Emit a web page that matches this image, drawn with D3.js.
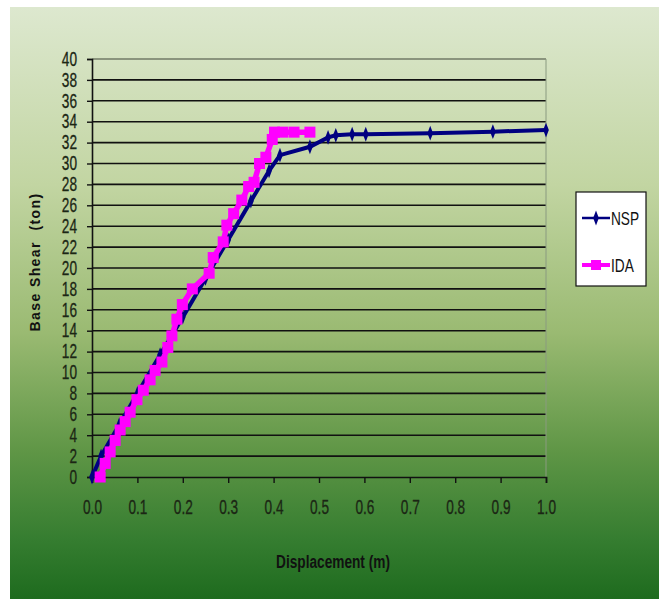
<!DOCTYPE html>
<html>
<head>
<meta charset="utf-8">
<script src="https://cdn.jsdelivr.net/npm/d3@7"></script>
<style>
  body { margin: 0; background: #fff; }
  svg { display: block; }
</style>
</head>
<body>
<svg id="chart" width="659" height="599"></svg>
<script>
// pushover curve (NSP) against the dynamic analysis (IDA)
const nspDisp  = [0, 0.02, 0.06, 0.10, 0.15, 0.20, 0.25, 0.30, 0.35, 0.39, 0.414, 0.48, 0.52, 0.537, 0.573, 0.603, 0.745, 0.883, 1.0]
const nspShear = [0, 2.0, 5.0, 8.0, 11.7, 15.3, 19.0, 22.7, 26.4, 29.3, 30.8, 31.6, 32.5, 32.7, 32.8, 32.8, 32.9, 33.05, 33.2]

const idaDisp  = [0.018, 0.029, 0.04, 0.051, 0.062, 0.073, 0.084, 0.099, 0.113, 0.128, 0.139, 0.154, 0.167, 0.176, 0.187, 0.199, 0.221, 0.258, 0.267, 0.289, 0.297, 0.312, 0.33, 0.345, 0.357, 0.369, 0.383, 0.397, 0.402, 0.42, 0.445, 0.48]
const idaShear = [0, 1.3, 2.4, 3.5, 4.5, 5.3, 6.2, 7.4, 8.3, 9.3, 10.2, 11.0, 12.4, 13.5, 15.1, 16.5, 18.0, 19.5, 21.0, 22.5, 24.1, 25.2, 26.5, 27.8, 28.2, 30.0, 30.6, 32.3, 33.0, 33.0, 33.0, 33.0]

const xTicks = [0, 0.1, 0.2, 0.3, 0.4, 0.5, 0.6, 0.7, 0.8, 0.9, 1.0]
const yTicks = d3.range(0, 41, 2)

const seriesNames = ["NSP", "IDA"]

const svg = d3.select("#chart")
const sans = "'Liberation Sans', Arial, sans-serif"
const squeeze = 0.7   // the original uses a narrow face

// background gradient
const defs = svg.append("defs")
const grad = defs.append("linearGradient")
  .attr("id", "bg")
  .attr("x1", 0).attr("y1", 0).attr("x2", 0).attr("y2", 1)
grad.append("stop").attr("offset", "0%").attr("stop-color", "#dde8cf")
grad.append("stop").attr("offset", "30%").attr("stop-color", "#c2d5a2")
grad.append("stop").attr("offset", "55%").attr("stop-color", "#9aba72")
grad.append("stop").attr("offset", "75%").attr("stop-color", "#5f9646")
grad.append("stop").attr("offset", "90%").attr("stop-color", "#357d30")
grad.append("stop").attr("offset", "100%").attr("stop-color", "#1e6b1e")

svg.append("rect")
  .attr("x", 10).attr("y", 7)
  .attr("width", 649).attr("height", 592)
  .attr("fill", "url(#bg)")

const x = d3.scaleLinear().domain([0, 1]).range([92, 546])
const y = d3.scaleLinear().domain([0, 40]).range([477, 59])

// gridlines
svg.append("g")
  .selectAll("line")
  .data(yTicks.filter(d => d > 0))
  .join("line")
  .attr("x1", x(0)).attr("x2", x(1))
  .attr("y1", d => y(d)).attr("y2", d => y(d))
  .attr("stroke", d => d == 40 ? "#707a66" : "#111")
  .attr("stroke-width", 1.6)

// right border of the plot
svg.append("line")
  .attr("x1", x(1)).attr("x2", x(1))
  .attr("y1", y(40)).attr("y2", y(0))
  .attr("stroke", "#8a9a80")
  .attr("stroke-width", 1)

// axes
const xAxis = svg.append("g")
  .attr("transform", `translate(0,${y(0)})`)
  .call(d3.axisBottom(x).tickValues(xTicks).tickFormat(d3.format(".1f")).tickSize(6).tickPadding(17))
const yAxis = svg.append("g")
  .attr("transform", `translate(${x(0)},0)`)
  .call(d3.axisLeft(y).tickValues(yTicks).tickSize(5).tickPadding(4))

for (const ax of [xAxis, yAxis]) {
  ax.select(".domain").attr("stroke", "#111").attr("stroke-width", 1.6)
  ax.selectAll(".tick line").attr("stroke", "#111").attr("stroke-width", 1.4)
  ax.selectAll(".tick text")
    .attr("fill", "#1b2614")
    .attr("stroke", "#1b2614")
    .attr("stroke-width", 0.3)
    .style("font-family", sans)
    .style("font-size", "19.5px")
    .attr("transform", `scale(${squeeze},1)`)
}
yAxis.selectAll(".tick text")
  .attr("x", -15 / squeeze)

// axis titles
svg.append("text")
  .attr("transform", `translate(333,568) scale(0.72,1)`)
  .attr("text-anchor", "middle")
  .style("font-family", sans)
  .style("font-weight", "bold")
  .style("font-size", "19px")
  .attr("fill", "#111")
  .text("Displacement (m)")

svg.append("text")
  .attr("transform", "translate(40,262) rotate(-90)")
  .attr("text-anchor", "middle")
  .style("font-family", sans)
  .style("font-weight", "bold")
  .style("font-size", "14px")
  .style("letter-spacing", "1.4px")
  .attr("fill", "#111")
  .attr("xml:space", "preserve")
  .text("Base Shear  (ton)")

const line = d3.line().x(d => x(d[0])).y(d => y(d[1]))

const nspData = nspDisp.map((d, i) => [d, nspShear[i]])
const idaData = idaDisp.map((d, i) => [d, idaShear[i]])

const diamond = d3.symbol().type(d3.symbolDiamond).size(44)

// NSP
svg.append("path")
  .datum(nspData)
  .attr("d", line)
  .attr("fill", "none")
  .attr("stroke", "#000080")
  .attr("stroke-width", 4)
svg.append("g")
  .selectAll("path")
  .data(nspData)
  .join("path")
  .attr("d", diamond)
  .attr("transform", d => `translate(${x(d[0])},${y(d[1])}) scale(0.8,1.2)`)
  .attr("fill", "#000080")

// IDA
svg.append("path")
  .datum(idaData)
  .attr("d", line)
  .attr("fill", "none")
  .attr("stroke", "#ff00ff")
  .attr("stroke-width", 5.5)
svg.append("g")
  .selectAll("rect")
  .data(idaData)
  .join("rect")
  .attr("x", d => x(d[0]) - 5.5)
  .attr("y", d => y(d[1]) - 5.5)
  .attr("width", 11).attr("height", 11)
  .attr("fill", "#ff00ff")

// legend
const legend = svg.append("g")
legend.append("rect")
  .attr("x", 576).attr("y", 192)
  .attr("width", 70).attr("height", 94)
  .attr("fill", "#fff")
  .attr("stroke", "#111")
  .attr("stroke-width", 1.2)

const legendColors = ["#000080", "#ff00ff"]
seriesNames.forEach((name, i) => {
  const ly = 218 + i * 47
  legend.append("line")
    .attr("x1", 582).attr("x2", 610)
    .attr("y1", ly).attr("y2", ly)
    .attr("stroke", legendColors[i])
    .attr("stroke-width", i == 0 ? 2.5 : 4)
  if (i == 0) {
    legend.append("path")
      .attr("d", diamond)
      .attr("transform", `translate(596,${ly}) scale(0.8,1.2)`)
      .attr("fill", legendColors[i])
  } else {
    legend.append("rect")
      .attr("x", 591).attr("y", ly - 5)
      .attr("width", 10).attr("height", 10)
      .attr("fill", legendColors[i])
  }
  legend.append("text")
    .attr("transform", `translate(611,${ly}) scale(0.72,1)`)
    .attr("dy", "0.36em")
    .style("font-family", sans)
    .style("font-size", "19px")
    .attr("fill", "#111")
    .text(name)
})
</script>
</body>
</html>
